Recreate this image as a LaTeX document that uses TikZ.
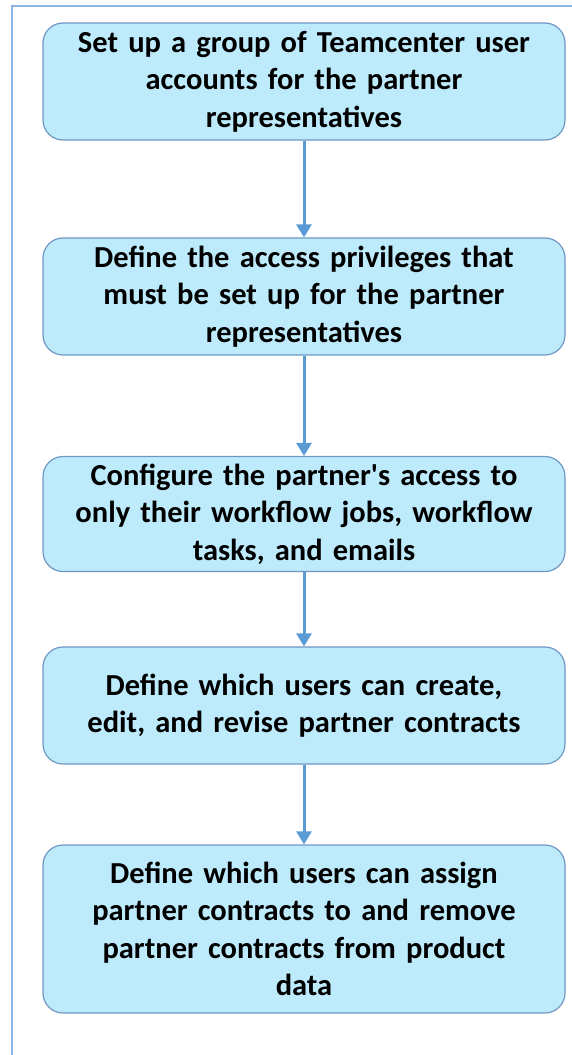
\documentclass[tikz,border=0pt]{standalone}
\usepackage{fontspec}
\setmainfont[WordSpace=0.85,Ligatures=TeXOff]{Carlito}
\usetikzlibrary{arrows.meta}
\definecolor{boxfill}{HTML}{BDEBFB}
\definecolor{boxline}{HTML}{6F97C4}
\definecolor{flowline}{HTML}{5B9BD5}
\definecolor{frameline}{HTML}{8DB4E2}
\begin{document}
\begin{tikzpicture}[x=1pt,y=-1pt,
  stepbox/.style={draw=boxline, line width=1.2pt, fill=boxfill, rounded corners=20pt,
    minimum width=522pt, align=center, text width=515pt, inner sep=0pt,
    font=\fontsize{30.5}{37.5}\selectfont\bfseries},
  flow/.style={draw=flowline, line width=3pt, -{Triangle[width=15pt,length=13pt]}}]
\useasboundingbox (0,0) rectangle (571,1055);
% outer frame (left and top edges)
\draw[frameline, line width=2pt] (12,1060) -- (12,6) -- (575,6);
% process steps
\node[stepbox, minimum height=117pt] (s1) at (304,81.5)
  {Set up a group of Teamcenter user\\accounts for the partner\\representatives};
\node[stepbox, minimum height=117pt] (s2) at (304,296.5)
  {Define the access privileges that\\must be set up for the partner\\representatives};
\node[stepbox, minimum height=115pt] (s3) at (304,514)
  {Configure the partner's access to\\only their workflow jobs, workflow\\tasks, and emails};
\node[stepbox, minimum height=117pt] (s4) at (304,705.5)
  {Define which users can create,\\edit, and revise partner contracts};
\node[stepbox, minimum height=168pt] (s5) at (304,929)
  {Define which users can assign\\partner contracts to and remove\\partner contracts from product\\data};
% connectors
\draw[flow] (s1) -- (s2);
\draw[flow] (s2) -- (s3);
\draw[flow] (s3) -- (s4);
\draw[flow] (s4) -- (s5);
\end{tikzpicture}
\end{document}
